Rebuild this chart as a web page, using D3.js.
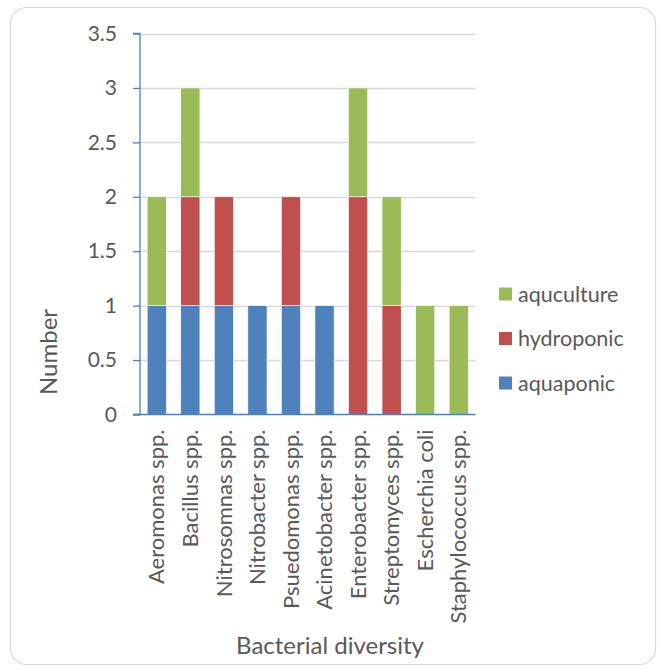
<!DOCTYPE html>
<html><head><meta charset="utf-8">
<script src="https://cdn.jsdelivr.net/npm/d3@7"></script>
<style>body{margin:0;background:#fff;} text{font-family:Lato,"Open Sans",sans-serif;fill:#595959;}</style>
</head><body>
<svg id="c" width="663" height="671"></svg>
<script>
const categories = ["Aeromonas spp.","Bacillus spp.","Nitrosomnas spp.","Nitrobacter spp.","Psuedomonas spp.","Acinetobacter spp.","Enterobacter spp.","Streptomyces spp.","Escherchia coli","Staphylococcus spp."];
const aquaponic  = [1,1,1,1,1,1,0,0,0,0];
const hydroponic = [0,1,1,0,1,0,2,1,0,0];
const aquculture = [1,1,0,0,0,0,1,1,1,1];
const seriesNames = ["aquaponic","hydroponic","aquculture"];
const seriesColors = ["#4f81bd","#c0504d","#9bbb59"];
const yTicks = [0,0.5,1,1.5,2,2.5,3,3.5];

const svg = d3.select("#c");
svg.append("rect").attr("x",10.5).attr("y",7.5).attr("width",645).attr("height",657)
  .attr("rx",16).attr("fill","#fff").attr("stroke","#d9d9d9").attr("stroke-width",1.2);

const L=140, R=475.5, T=33.5, B=414.5;
const x = d3.scaleBand().domain(categories).range([L,R]).paddingInner(0.75/1.75).paddingOuter(0.375/1.75);
const y = d3.scaleLinear().domain([0,3.5]).range([B,T]);

const rows = categories.map((c,i)=>({cat:c,aquaponic:aquaponic[i],hydroponic:hydroponic[i],aquculture:aquculture[i]}));
const stack = d3.stack().keys(seriesNames)(rows);

// gridlines
svg.append("g").selectAll("line").data(yTicks.filter(d=>d>0)).join("line")
  .attr("x1",L).attr("x2",R).attr("y1",d=>Math.round(y(d))+0.5).attr("y2",d=>Math.round(y(d))+0.5)
  .attr("stroke","#d9d9d9").attr("stroke-width",1.3);

// bars
stack.forEach((s,si)=>{
  svg.append("g").selectAll("rect").data(s.filter(d=>d[1]>d[0])).join("rect")
    .attr("x",d=>x(d.data.cat)).attr("width",x.bandwidth())
    .attr("y",d=>y(d[1])).attr("height",d=>y(d[0])-y(d[1]))
    .attr("fill",seriesColors[si]).attr("stroke","#fff").attr("stroke-width",0.6);
});

// y axis
const ya = svg.append("g").attr("transform",`translate(${L},0)`)
  .call(d3.axisLeft(y).tickValues(yTicks).tickSize(7).tickPadding(16).tickFormat(d3.format("")));
ya.select(".domain").attr("stroke","#4f81bd").attr("stroke-width",1.3).attr("d",`M-7,${T}H0V${B}H-7`);
ya.selectAll(".tick line").attr("stroke","#4f81bd").attr("stroke-width",1.3);
ya.selectAll(".tick text").attr("font-size",21).attr("fill","#595959").style("font-family","Lato,'Open Sans',sans-serif");

// x axis
const xa = svg.append("g").attr("transform",`translate(0,${B})`)
  .call(d3.axisBottom(x).tickSize(0).tickPadding(0));
xa.select(".domain").attr("stroke","#4f81bd").attr("stroke-width",1.3).attr("d",`M${L-7},0H${R}`);
xa.selectAll(".tick text").attr("font-size",22).attr("fill","#595959")
  .style("font-family","Lato,'Open Sans',sans-serif")
  .attr("text-anchor","end").attr("dy","0.35em")
  .attr("transform","translate(0,15) rotate(-90)");

// axis titles
svg.append("text").attr("x",330).attr("y",654).attr("text-anchor","middle").attr("font-size",24).text("Bacterial diversity");
svg.append("text").attr("transform","translate(57,352) rotate(-90)").attr("text-anchor","middle").attr("font-size",24).text("Number");

// legend
const legendOrder = [2,1,0];
const lg = svg.append("g").selectAll("g").data(legendOrder).join("g")
  .attr("transform",(d,i)=>`translate(499,${294+i*44.5})`);
lg.append("rect").attr("x",0).attr("y",-6.5).attr("width",13).attr("height",13).attr("fill",d=>seriesColors[d]);
lg.append("text").attr("x",19).attr("y",0).attr("dy","0.35em").attr("font-size",21.5).text(d=>seriesNames[d]);
</script>
</body></html>
